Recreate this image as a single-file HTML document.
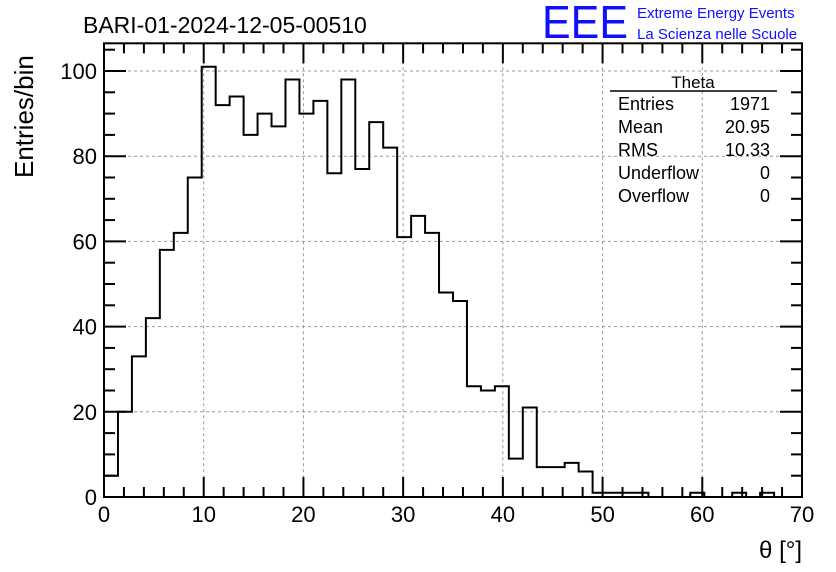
<!DOCTYPE html>
<html><head><meta charset="utf-8"><style>
html,body{margin:0;padding:0;background:#fff;}
svg{display:block;font-family:"Liberation Sans",sans-serif;}
</style></head><body>
<svg id="c" width="836" height="572" viewBox="0 0 836 572">
<rect width="836" height="572" fill="#fff"/>
<text x="83" y="33" font-size="23">BARI-01-2024-12-05-00510</text>
<text x="542" y="38" font-size="46" fill="#1010ff" textLength="86" lengthAdjust="spacingAndGlyphs">EEE</text>
<text x="637" y="18" font-size="15" fill="#1010ff">Extreme Energy Events</text>
<text x="637" y="39" font-size="15" fill="#1010ff">La Scienza nelle Scuole</text>
<g id="grid"></g>
<g id="bars"></g>
<g id="axes"></g>
<text x="45" y="110" font-size="26" transform="rotate(-90 30 110)" text-anchor="end"><tspan x="0" dy="0"></tspan></text>
<text transform="translate(33,178) rotate(-90)" font-size="26">Entries/bin</text>
<text x="802" y="558" font-size="24" text-anchor="end">θ [°]</text>
<g font-size="18">
<line x1="610" y1="91" x2="777" y2="91" stroke="#000" stroke-width="1.5"/>
<text x="693" y="88" text-anchor="middle" font-size="17">Theta</text>
<text x="618" y="110">Entries</text><text x="770" y="110" text-anchor="end">1971</text>
<text x="618" y="133">Mean</text><text x="770" y="133" text-anchor="end">20.95</text>
<text x="618" y="156">RMS</text><text x="770" y="156" text-anchor="end">10.33</text>
<text x="618" y="179">Underflow</text><text x="770" y="179" text-anchor="end">0</text>
<text x="618" y="202">Overflow</text><text x="770" y="202" text-anchor="end">0</text>
</g>
</svg>
<script>
const counts=[5,20,33,42,58,62,75,101,92,94,85,90,87,98,90,93,76,98,77,88,82,61,66,62,48,46,26,25,26,9,21,7,7,8,6,1,1,1,1,0,0,0,1,0,0,1,0,1,0,0];
const binWidth=1.4;
const xTicks=[0,10,20,30,40,50,60,70];
const yTicks=[0,20,40,60,80,100];
const X0=104,X1=802,Y0=497,Y1=71;
const xs=v=>X0+(v-0)/70*(X1-X0);
const ys=v=>Y0-(v/100)*(Y0-Y1);
const yTop=ys(106.5);
const NS="http://www.w3.org/2000/svg";
function mk(tag,attrs,parent){const e=document.createElementNS(NS,tag);for(const k in attrs)e.setAttribute(k,attrs[k]);parent.appendChild(e);return e;}
const grid=document.getElementById('grid'),bars=document.getElementById('bars'),axes=document.getElementById('axes');
xTicks.slice(1,-1).forEach(t=>{const l=mk('line',{x1:xs(t),x2:xs(t),y1:yTop,y2:Y0,stroke:'#999','stroke-dasharray':'3,3'},grid);

});
yTicks.slice(1).forEach(t=>{const l=mk('line',{x1:X0,x2:X1,y1:ys(t),y2:ys(t),stroke:'#999','stroke-dasharray':'3,3'},grid);

});
let d='M'+xs(0)+','+Y0;
counts.forEach((c,i)=>{d+=' L'+xs(i*binWidth)+','+ys(c)+' L'+xs((i+1)*binWidth)+','+ys(c);});
d+=' L'+xs(counts.length*binWidth)+','+Y0;
const p=mk('path',{d:d,fill:'none',stroke:'#000','stroke-width':2},bars);


const fr=mk('rect',{x:X0,y:yTop,width:X1-X0,height:Y0-yTop,fill:'none',stroke:'#000','stroke-width':2},axes);


for(let v=0;v<=70;v+=2){const L=v%10===0?20:10;
mk('line',{x1:xs(v),x2:xs(v),y1:Y0,y2:Y0-L,stroke:'#000','stroke-width':2},axes);
mk('line',{x1:xs(v),x2:xs(v),y1:yTop,y2:yTop+L,stroke:'#000','stroke-width':2},axes);}
for(let v=0;v<=105;v+=5){const L=v%20===0?22:11;
mk('line',{x1:X0,x2:X0+L,y1:ys(v),y2:ys(v),stroke:'#000','stroke-width':2},axes);
mk('line',{x1:X1,x2:X1-L,y1:ys(v),y2:ys(v),stroke:'#000','stroke-width':2},axes);}
xTicks.forEach(t=>{const e=mk('text',{x:xs(t),y:522,'font-size':22,'text-anchor':'middle'},axes);e.textContent=t;

});
yTicks.forEach(t=>{const e=mk('text',{x:97,y:ys(t)+8,'font-size':22,'text-anchor':'end'},axes);e.textContent=t;

});
</script>
</body></html>
